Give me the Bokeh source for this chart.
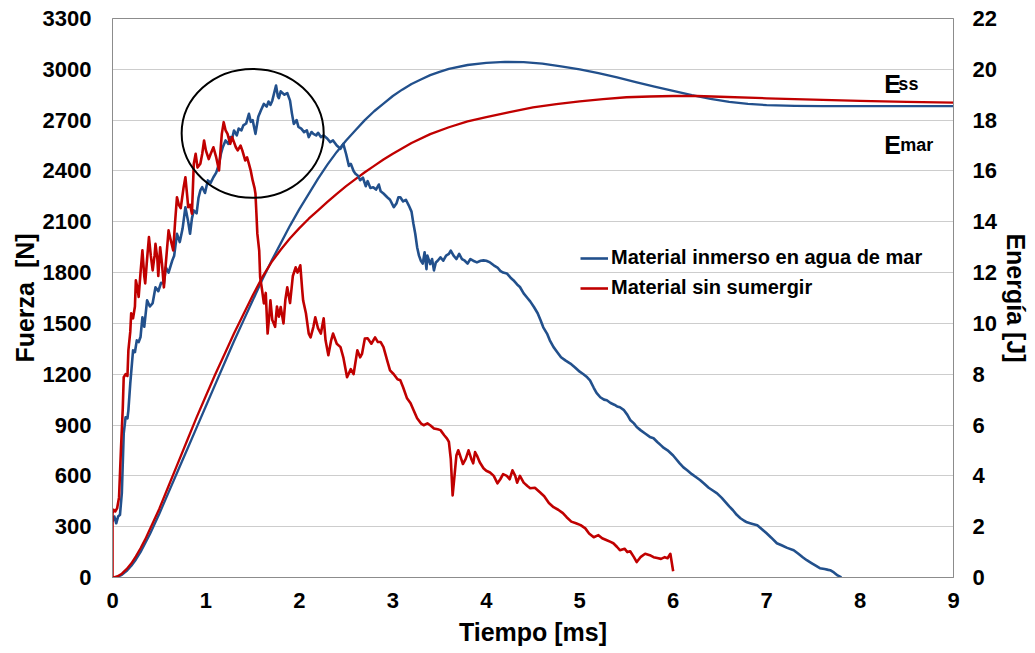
from bokeh.plotting import figure
from bokeh.models import Range1d, LinearAxis, FixedTicker, Legend, LegendItem, Label
from bokeh.embed import file_html
from bokeh.resources import INLINE

# ---------------- data ----------------
x_ticks = [0, 1, 2, 3, 4, 5, 6, 7, 8, 9]
y_ticks = [0, 300, 600, 900, 1200, 1500, 1800, 2100, 2400, 2700, 3000, 3300]
e_ticks = [0, 2, 4, 6, 8, 10, 12, 14, 16, 18, 20, 22]

series_names = ["Material inmerso en agua de mar", "Material sin sumergir"]

# Force, material immersed in sea water (blue)
t_sea = [0.00, 0.02, 0.04, 0.06, 0.08, 0.10, 0.12, 0.14, 0.16, 0.17, 0.19, 0.22, 0.24, 0.26, 0.28,
         0.30, 0.32, 0.34, 0.37, 0.40, 0.43, 0.46, 0.49, 0.52, 0.55, 0.57, 0.60, 0.64, 0.66, 0.69,
         0.72, 0.75, 0.78, 0.81, 0.83, 0.85, 0.87, 0.90, 0.92, 0.94, 0.96, 0.99, 1.02, 1.05, 1.08,
         1.11, 1.14, 1.16, 1.18, 1.21, 1.24, 1.26, 1.28, 1.30, 1.33, 1.35, 1.38, 1.40, 1.43, 1.46,
         1.48, 1.50, 1.53, 1.56, 1.59, 1.62, 1.65, 1.67, 1.69, 1.71, 1.73, 1.75, 1.77, 1.78, 1.80,
         1.81, 1.84, 1.87, 1.90, 1.92, 1.94, 1.97, 1.99, 2.02, 2.05, 2.08, 2.10, 2.13, 2.15, 2.18,
         2.20, 2.23, 2.26, 2.30, 2.33, 2.36, 2.40, 2.44, 2.47, 2.50, 2.53, 2.55, 2.58, 2.60, 2.63,
         2.65, 2.68, 2.71, 2.73, 2.76, 2.79, 2.82, 2.85, 2.87, 2.90, 2.94, 2.97, 3.01, 3.04, 3.06,
         3.08, 3.11, 3.14, 3.17, 3.20, 3.22, 3.24, 3.26, 3.28, 3.30, 3.32, 3.34, 3.36, 3.37, 3.40,
         3.42, 3.44, 3.46, 3.48, 3.51, 3.54, 3.57, 3.60, 3.62, 3.65, 3.68, 3.71, 3.74, 3.77, 3.80,
         3.83, 3.86, 3.90, 3.94, 3.97, 4.00, 4.04, 4.08, 4.12, 4.15, 4.18, 4.22, 4.26, 4.29, 4.33,
         4.36, 4.40, 4.44, 4.47, 4.51, 4.55, 4.58, 4.61, 4.65, 4.68, 4.72, 4.76, 4.80, 4.85, 4.90,
         4.95, 5.00, 5.04, 5.08, 5.11, 5.15, 5.18, 5.22, 5.26, 5.29, 5.33, 5.37, 5.40, 5.43, 5.47,
         5.51, 5.54, 5.58, 5.61, 5.65, 5.70, 5.75, 5.79, 5.83, 5.87, 5.90, 5.94, 6.00, 6.07, 6.11,
         6.15, 6.20, 6.25, 6.29, 6.33, 6.38, 6.42, 6.47, 6.52, 6.56, 6.60, 6.64, 6.68, 6.72, 6.76,
         6.79, 6.84, 6.90, 6.95, 7.00, 7.05, 7.11, 7.16, 7.22, 7.29, 7.34, 7.39, 7.43, 7.48, 7.53,
         7.57, 7.62, 7.66, 7.68, 7.72, 7.76, 7.80]
F_sea = [330, 360, 320, 360, 370, 500, 849, 946, 940, 987, 1144, 1341, 1330, 1400, 1390,
         1420, 1536, 1480, 1636, 1600, 1620, 1713, 1690, 1740, 1736, 1831, 1800, 1872, 1900, 2029,
         1980, 2060, 2186, 2100, 2029, 2120, 2167, 2150, 2240, 2285, 2304, 2270, 2344, 2330, 2363,
         2390, 2442, 2500, 2540, 2580, 2560, 2600, 2590, 2639, 2610, 2650, 2640, 2669, 2680, 2737,
         2690, 2700, 2619, 2720, 2760, 2796, 2780, 2810, 2790, 2815, 2860, 2904, 2840, 2830, 2870,
         2864, 2850, 2860, 2815, 2740, 2678, 2700, 2660, 2650, 2629, 2640, 2600, 2630, 2619, 2610,
         2625, 2600, 2610, 2590, 2570, 2580, 2550, 2531, 2560, 2500, 2430, 2442, 2400, 2383, 2370,
         2345, 2360, 2310, 2340, 2300, 2304, 2290, 2320, 2280, 2267, 2245, 2230, 2186, 2210, 2245,
         2245, 2220, 2230, 2197, 2160, 2090, 2029, 1950, 1900, 1870, 1853, 1920, 1820, 1900, 1850,
         1880, 1813, 1860, 1870, 1890, 1870, 1900, 1910, 1930, 1900, 1880, 1910, 1880, 1870, 1853,
         1880, 1870, 1860, 1870, 1872, 1870, 1860, 1843, 1830, 1810, 1800, 1795, 1770, 1755, 1730,
         1715, 1677, 1650, 1630, 1597, 1560, 1520, 1477, 1440, 1400, 1360, 1330, 1300, 1280, 1263,
         1240, 1215, 1200, 1182, 1164, 1120, 1090, 1064, 1050, 1046, 1030, 1020, 1010, 1005, 990,
         960, 930, 910, 888, 870, 850, 830, 822, 800, 780, 765, 751, 720, 674, 650,
         633, 610, 590, 574, 555, 530, 515, 497, 470, 445, 420, 397, 370, 350, 335,
         326, 318, 309, 285, 261, 235, 202, 190, 175, 161, 140, 118, 102, 85, 68,
         55, 50, 45, 43, 30, 12, 0]

# Force, material not immersed (red)
t_dry = [0.00, 0.00, 0.01, 0.03, 0.05, 0.07, 0.09, 0.11, 0.12, 0.14, 0.16, 0.17, 0.19, 0.20, 0.22,
         0.24, 0.25, 0.27, 0.28, 0.30, 0.32, 0.34, 0.35, 0.37, 0.39, 0.41, 0.43, 0.45, 0.46, 0.48,
         0.49, 0.51, 0.53, 0.55, 0.57, 0.60, 0.62, 0.65, 0.67, 0.69, 0.71, 0.73, 0.76, 0.78, 0.80,
         0.81, 0.83, 0.85, 0.87, 0.89, 0.91, 0.94, 0.96, 0.98, 1.00, 1.03, 1.05, 1.08, 1.11, 1.14,
         1.16, 1.17, 1.19, 1.21, 1.23, 1.26, 1.28, 1.30, 1.32, 1.34, 1.37, 1.39, 1.42, 1.44, 1.46,
         1.48, 1.50, 1.52, 1.53, 1.54, 1.55, 1.57, 1.58, 1.60, 1.62, 1.64, 1.66, 1.68, 1.69, 1.71,
         1.74, 1.76, 1.78, 1.80, 1.83, 1.85, 1.87, 1.90, 1.93, 1.96, 1.98, 2.01, 2.03, 2.04, 2.07,
         2.10, 2.12, 2.15, 2.17, 2.20, 2.23, 2.26, 2.28, 2.31, 2.34, 2.36, 2.40, 2.44, 2.47, 2.51,
         2.55, 2.58, 2.62, 2.65, 2.67, 2.70, 2.73, 2.77, 2.81, 2.84, 2.87, 2.90, 2.94, 2.97, 3.01,
         3.05, 3.08, 3.11, 3.15, 3.19, 3.22, 3.26, 3.30, 3.33, 3.37, 3.40, 3.44, 3.48, 3.51, 3.55,
         3.58, 3.60, 3.62, 3.64, 3.66, 3.68, 3.70, 3.72, 3.75, 3.78, 3.81, 3.84, 3.86, 3.88, 3.90,
         3.93, 3.97, 4.00, 4.04, 4.08, 4.12, 4.15, 4.18, 4.22, 4.25, 4.28, 4.31, 4.33, 4.36, 4.40,
         4.44, 4.47, 4.52, 4.58, 4.62, 4.67, 4.72, 4.77, 4.82, 4.86, 4.91, 4.96, 5.01, 5.06, 5.10,
         5.15, 5.20, 5.24, 5.29, 5.33, 5.36, 5.40, 5.43, 5.48, 5.51, 5.54, 5.58, 5.61, 5.65, 5.70,
         5.75, 5.79, 5.83, 5.87, 5.91, 5.94, 5.97, 6.00]
F_dry = [0, 380, 400, 390, 410, 473, 751, 1000, 1182, 1200, 1190, 1341, 1450, 1559, 1530,
         1600, 1755, 1700, 1656, 1800, 1931, 1780, 1736, 1880, 2010, 1900, 1813, 1900, 1970, 1880,
         1780, 1950, 1850, 1713, 1850, 2049, 2000, 1931, 2100, 2245, 2200, 2180, 2300, 2363, 2250,
         2186, 2200, 2148, 2442, 2501, 2420, 2442, 2500, 2580, 2520, 2470, 2500, 2540, 2480, 2403,
         2550, 2619, 2688, 2640, 2620, 2560, 2600, 2570, 2540, 2521, 2550, 2520, 2462, 2480, 2442,
         2400, 2344, 2300, 2265, 2150, 2030, 1930, 1773, 1700, 1618, 1680, 1440, 1560, 1636, 1520,
         1480, 1600, 1540, 1597, 1500, 1640, 1713, 1620, 1780, 1831, 1800, 1843, 1700, 1636, 1560,
         1440, 1418, 1480, 1536, 1470, 1440, 1530, 1400, 1312, 1400, 1440, 1380, 1360, 1300, 1182,
         1230, 1200, 1341, 1300, 1320, 1410, 1412, 1380, 1418, 1390, 1390, 1360, 1280, 1223, 1200,
         1170, 1164, 1123, 1060, 1029, 990, 940, 910, 899, 910, 899, 880, 875, 870, 840,
         820, 800, 700, 485, 600, 720, 751, 720, 670, 700, 751, 700, 674, 740, 720,
         680, 645, 630, 620, 600, 556, 580, 610, 600, 580, 633, 600, 560, 600, 560,
         540, 527, 530, 500, 480, 440, 415, 400, 380, 356, 330, 320, 309, 290, 260,
         238, 250, 232, 220, 210, 202, 180, 161, 170, 150, 155, 120, 91, 120, 140,
         132, 120, 115, 110, 120, 114, 140, 37]

# Absorbed energy (J)
tE_sea = [0, 0.05, 0.1, 0.15, 0.2, 0.25, 0.3, 0.35, 0.4, 0.5, 0.6, 0.7, 0.8, 0.9, 1.0, 1.1, 1.2,
          1.3, 1.4, 1.5, 1.6, 1.7, 1.8, 1.9, 2.0, 2.1, 2.2, 2.3, 2.4, 2.5, 2.6, 2.7, 2.8, 2.9,
          3.0, 3.1, 3.2, 3.3, 3.4, 3.5, 3.6, 3.8, 4.0, 4.2, 4.4, 4.6, 4.8, 5.0, 5.2, 5.4, 5.6,
          5.8, 6.0, 6.2, 6.4, 6.6, 6.8, 7.0, 7.3, 7.6, 8.0, 9.0]
E_sea = [0, 0.02, 0.1, 0.25, 0.45, 0.7, 1.0, 1.35, 1.7, 2.5, 3.35, 4.2, 5.05, 5.9, 6.75, 7.6, 8.45,
         9.3, 10.1, 10.9, 11.7, 12.45, 13.15, 13.85, 14.5, 15.1, 15.7, 16.25, 16.75, 17.2, 17.6,
         18.0, 18.35, 18.65, 18.95, 19.2, 19.42, 19.6, 19.77, 19.9, 20.02, 20.17, 20.25, 20.29,
         20.28, 20.22, 20.12, 20.0, 19.85, 19.68, 19.5, 19.32, 19.15, 18.98, 18.84, 18.72, 18.64,
         18.59, 18.56, 18.55, 18.55, 18.55]
tE_dry = [0, 0.05, 0.1, 0.15, 0.2, 0.25, 0.3, 0.35, 0.4, 0.5, 0.6, 0.7, 0.8, 0.9, 1.0, 1.1, 1.2,
          1.3, 1.4, 1.5, 1.6, 1.7, 1.8, 1.9, 2.0, 2.1, 2.2, 2.3, 2.4, 2.5, 2.6, 2.7, 2.8, 2.9,
          3.0, 3.2, 3.4, 3.6, 3.8, 4.0, 4.25, 4.5, 4.75, 5.0, 5.25, 5.5, 5.75, 6.0, 6.25, 6.5,
          7.0, 7.5, 8.0, 8.5, 9.0]
E_dry = [0, 0.04, 0.15, 0.33, 0.55, 0.83, 1.15, 1.5, 1.9, 2.7, 3.6, 4.5, 5.4, 6.3, 7.15, 8.0, 8.8,
         9.6, 10.35, 11.1, 11.8, 12.4, 12.9, 13.35, 13.75, 14.12, 14.45, 14.78, 15.1, 15.4, 15.68,
         15.95, 16.2, 16.45, 16.68, 17.1, 17.45, 17.72, 17.95, 18.12, 18.32, 18.5, 18.63, 18.74,
         18.83, 18.9, 18.93, 18.95, 18.95, 18.92, 18.86, 18.81, 18.76, 18.72, 18.69]

# ---------------- figure ----------------
FONT = "Liberation Sans"
BLUE = "#22508C"
RED = "#C00000"
GRAY = "#8C8C8C"

p = figure(width=1035, height=653, output_backend="svg", toolbar_location=None,
           x_range=Range1d(0, 9), y_range=Range1d(0, 3300),
           min_border_left=112, min_border_right=82, min_border_top=18, min_border_bottom=76,
           background_fill_color="white", border_fill_color="white")
p.extra_y_ranges = {"E": Range1d(0, 22)}

p.outline_line_color = GRAY
p.outline_line_width = 1
p.xgrid.grid_line_color = None
p.ygrid.ticker = FixedTicker(ticks=y_ticks)
p.ygrid.grid_line_color = "#CDCDCD"
p.ygrid.grid_line_width = 1.2

def style_axis(ax, ticks, standoff):
    ax.ticker = FixedTicker(ticks=ticks)
    ax.axis_line_color = GRAY
    ax.major_tick_line_color = None
    ax.minor_tick_line_color = None
    ax.major_tick_out = 0
    ax.major_tick_in = 0
    ax.major_label_standoff = standoff
    ax.major_label_text_font = FONT
    ax.major_label_text_font_size = "22px"
    ax.major_label_text_font_style = "bold"
    ax.major_label_text_color = "black"
    ax.axis_label_text_font = FONT
    ax.axis_label_text_font_size = "25px"
    ax.axis_label_text_font_style = "bold"
    ax.axis_label_text_color = "black"

style_axis(p.xaxis[0], x_ticks, 15)
p.xaxis[0].axis_label = "Tiempo [ms]"
p.xaxis[0].axis_label_standoff = 7
style_axis(p.yaxis[0], y_ticks, 21)
p.yaxis[0].axis_label = "Fuerza\u00a0\u00a0[N]"
p.yaxis[0].axis_label_standoff = 1

raxis = LinearAxis(y_range_name="E")
style_axis(raxis, e_ticks, 19)
raxis.axis_label = "Energía [J]"
raxis.axis_label_standoff = 2
p.add_layout(raxis, "right")

# energy curves
p.line(tE_sea, E_sea, y_range_name="E", line_color=BLUE, line_width=2.3, line_join="round")
p.line(tE_dry, E_dry, y_range_name="E", line_color=RED, line_width=2.3, line_join="round")

# force curves
r_sea = p.line(t_sea, F_sea, line_color=BLUE, line_width=2.6, line_join="round")
r_dry = p.line(t_dry, F_dry, line_color=RED, line_width=2.6, line_join="round")

# highlight ellipse
p.ellipse(x=[1.5], y=[2622], width=1.52, height=761, fill_color=None,
          line_color="black", line_width=2)

legend = Legend(items=[LegendItem(label=series_names[0], renderers=[r_sea]),
                       LegendItem(label=series_names[1], renderers=[r_dry])],
                location=(468, 278), orientation="vertical",
                label_text_font=FONT, label_text_font_size="20px",
                label_text_font_style="bold", label_text_color="black",
                glyph_width=28, glyph_height=20, label_height=20, label_standoff=3,
                spacing=7, padding=0, margin=0,
                background_fill_alpha=0, border_line_alpha=0)
p.add_layout(legend)

# energy annotations
for txt, x, y, size in [("E", 8.26, 19.42, "25px"), ("ss", 8.41, 19.42, "18px"),
                        ("E", 8.26, 17.02, "25px"), ("mar", 8.43, 17.02, "18px")]:
    p.add_layout(Label(x=x, y=y, y_range_name="E", text=txt, text_font=FONT,
                       text_font_size=size, text_font_style="bold", text_color="black",
                       text_baseline="alphabetic", text_align="left"))

open("out.html", "w").write(file_html(p, INLINE))
